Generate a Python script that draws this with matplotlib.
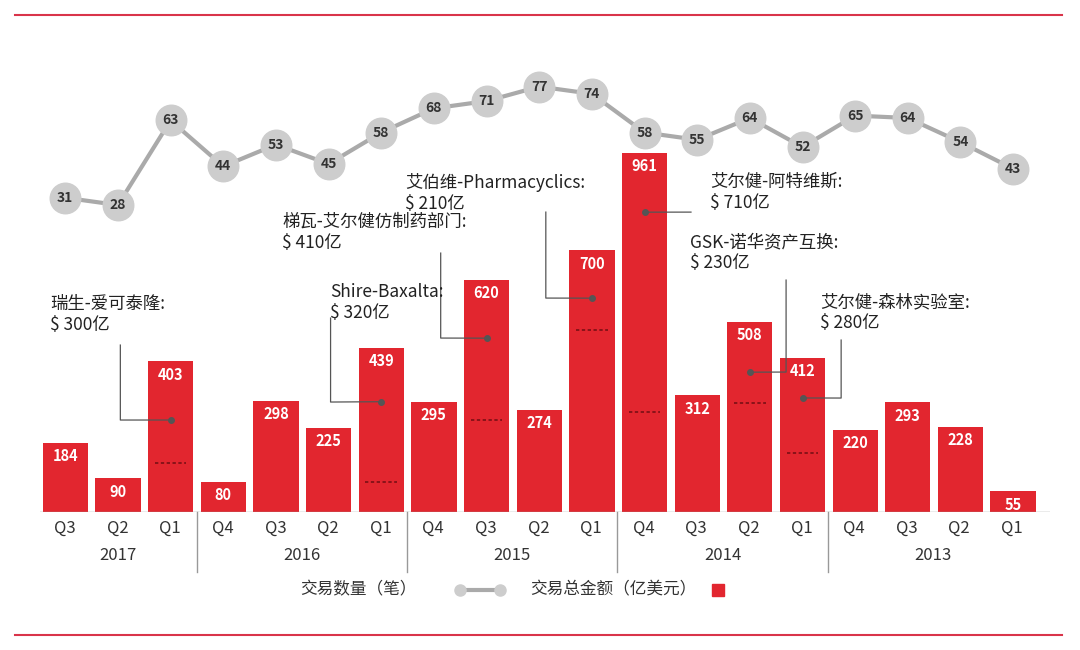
import matplotlib
matplotlib.use("Agg")
import matplotlib.pyplot as plt
plt.rcParams['font.family'] = ['Noto Sans CJK SC', 'DejaVu Sans']

quarters = ["Q3","Q2","Q1","Q4","Q3","Q2","Q1","Q4","Q3","Q2","Q1","Q4","Q3","Q2","Q1","Q4","Q3","Q2","Q1"]
years = [("2017",0,2),("2016",3,6),("2015",7,10),("2014",11,14),("2013",15,18)]
amounts = [184,90,403,80,298,225,439,295,620,274,700,961,312,508,412,220,293,228,55]
counts = [31,28,63,44,53,45,58,68,71,77,74,58,55,64,52,65,64,54,43]
# deals: (bar index, dashed level, dot level, label)
deal_idx = [2,6,8,10,11,13,14]
deal_dash = [131,80,246,487,267,291,158]
deal_dot = [246,295,465,572,802,374,305]
deal_text = ["瑞生-爱可泰隆:\n$ 300亿","Shire-Baxalta:\n$ 320亿","梯瓦-艾尔健仿制药部门:\n$ 410亿",
             "艾伯维-Pharmacyclics:\n$ 210亿","艾尔健-阿特维斯:\n$ 710亿","GSK-诺华资产互换:\n$ 230亿","艾尔健-森林实验室:\n$ 280亿"]

RED = "#e2262f"
fig = plt.figure(figsize=(10.8,6.5), dpi=100)
ax = fig.add_axes([40/1080, 1-512/650, 1010/1080, 452/650])
x = list(range(len(amounts)))
ax.bar(x, amounts, width=0.86, color=RED, zorder=2)
ax.set_xlim(-0.48, 18.7)
ax.set_ylim(0, 1209)
for i,v in zip(x, amounts):
    ax.text(i, v-14, str(v), ha='center', va='top', color='white', fontsize=10.5, fontweight='bold', zorder=4)
for i,d in zip(deal_idx, deal_dash):
    ax.plot([i-0.3,i+0.3],[d,d], color='#7a1015', lw=1.2, ls=(0,(2,1.5)), zorder=3)
for s in ax.spines.values(): s.set_visible(False)
ax.set_xticks([]); ax.set_yticks([])
ax.axhline(0, color='#999999', lw=1)

# PX helpers
def px(xp, yp):  # figure pixel -> data
    return ((xp-65)/52.6, (512-yp)/0.374)

# annotations: text px pos and connector path in px
ann = [
    ((50,295),[(120,345),(120,420)]),
    ((330,283),[(330,318),(330,402)]),
    ((282,213),[(440,253),(440,338)]),
    ((405,173),[(545,212),(545,298)]),
    ((710,173),[(690,212)]),
    ((690,233),[(785,280),(785,372)]),
    ((820,293),[(840,340),(840,398)]),
]
for (tp, path), i, dot, t in zip(ann, deal_idx, deal_dot, deal_text):
    pts = [px(*p) for p in path] + [(i, dot)]
    ax.plot([p[0] for p in pts],[p[1] for p in pts], color='#555555', lw=0.9, zorder=3, clip_on=False)
    ax.plot(i, dot, 'o', color='#555555', ms=4, zorder=5)
    fig.text(tp[0]/1080, 1-tp[1]/650, t, ha='left', va='top', fontsize=12.5, color='#222222', linespacing=1.2)

ax2 = ax.twinx()
ax2.set_ylim(-99, 88)
ax2.plot(x, counts, color='#aaaaaa', lw=3, marker='o', ms=22, mfc='#cdcdcd', mec='#cdcdcd', zorder=3)
for i,c in zip(x, counts):
    ax2.text(i, c, str(c), ha='center', va='center', fontsize=10, fontweight='bold', color='#333333', zorder=5)
ax2.axis('off')

for i,q in enumerate(quarters):
    fig.text((65+52.6*i)/1080, 1-528/650, q, ha='center', va='center', fontsize=12, color='#333333')
for y,a,b in years:
    fig.text((65+52.6*(a+b)/2)/1080, 1-556/650, y, ha='center', va='center', fontsize=12, color='#333333')
for b in [2,6,10,14]:
    xx = (65+52.6*(b+0.5))/1080
    fig.add_artist(plt.Line2D([xx,xx],[1-512/650,1-572/650], color='#999999', lw=1))

# legend
fig.add_artist(plt.Line2D([460/1080,500/1080],[1-590/650]*2, color='#aaaaaa', lw=3, marker='o', ms=8, mfc='#cdcdcd', mec='#cdcdcd'))
fig.text(300/1080, 1-590/650, "交易数量（笔）", ha='left', va='center', fontsize=12, color='#333333')
fig.add_artist(plt.Rectangle((712/1080,1-596/650),12/1080,12/650, color=RED))
fig.text(530/1080, 1-590/650, "交易总金额（亿美元）", ha='left', va='center', fontsize=12, color='#333333')

for yy in [15,635]:
    fig.add_artist(plt.Line2D([15/1080,1062/1080],[1-yy/650]*2, color='#d9344a', lw=1.5))

fig.savefig("out.png", dpi=100)
